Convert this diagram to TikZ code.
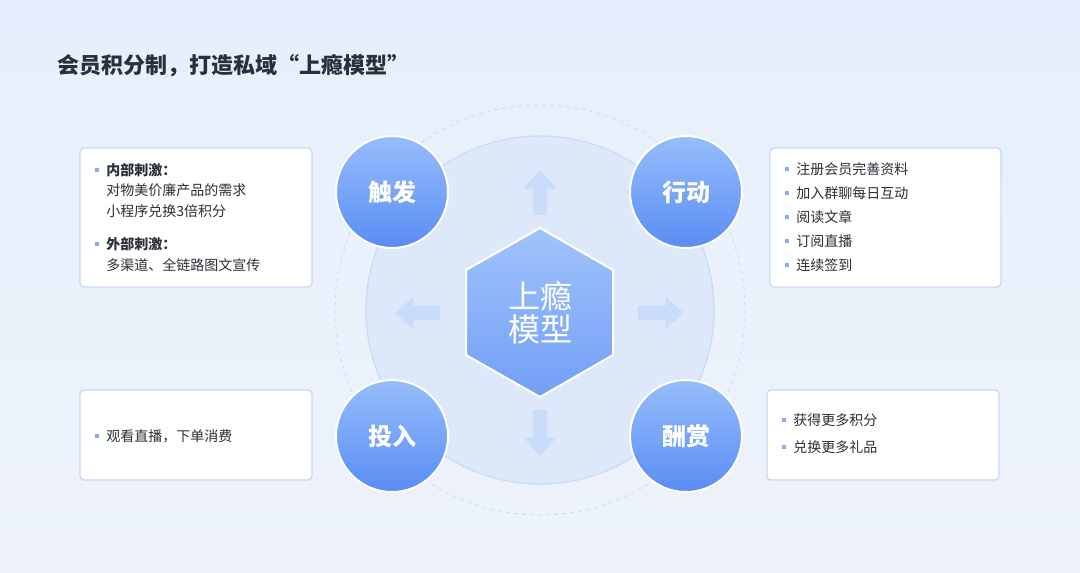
\documentclass[tikz,border=0pt]{standalone}
\usepackage{fontspec}
\setmainfont{Noto Sans CJK SC}
\usetikzlibrary{shapes.geometric,arrows.meta,shadows}
\definecolor{bgtop}{HTML}{E6EFFD}
\definecolor{bgbot}{HTML}{EEF3FA}
\definecolor{cA}{HTML}{96BDFB}
\definecolor{cB}{HTML}{5A8DF4}
\definecolor{ring}{HTML}{DDE8FB}
\definecolor{ringline}{HTML}{CCDCF8}
\definecolor{arr}{HTML}{C9DCFA}
\definecolor{txt}{HTML}{2B2F36}
\definecolor{boxline}{HTML}{C8D9F6}
\tikzset{
  stage/.style={circle,minimum size=112*0.75pt,inner sep=0pt,draw=white,line width=1.5pt,
    top color=cA,bottom color=cB,text=white,font=\fontsize{18}{20}\selectfont\bfseries},
  infobox/.style={draw=boxline,line width=1pt,fill=white,rounded corners=3pt},
  bigarrow/.style={draw=arr,line width=10pt,-{Triangle[length=14pt,width=24pt]},fill=arr},
  item/.style={anchor=west,text=txt,font=\fontsize{10.5}{13}\selectfont,inner sep=0pt},
  bul/.style={fill=cB!70,minimum size=3pt,inner sep=0pt},
}
\begin{document}
\begin{tikzpicture}[x=0.75pt,y=-0.75pt]
\shade[top color=bgtop,bottom color=bgbot] (0,0) rectangle (1080,572);
\useasboundingbox (0,0) rectangle (1080,572);
\node[anchor=west,text=txt,font=\fontsize{16.5}{20}\selectfont\bfseries] (title) at (53,66) {会员积分制，打造私域“上瘾模型”};
% rings
\draw[ringline,dashed,line width=0.6pt] (540,310) circle[radius=205];
\fill[ring] (540,310) circle[radius=174];
\draw[ringline,line width=1pt] (540,310) circle[radius=174];
% arrows
\coordinate (u1) at (540,215); \coordinate (u2) at (540,170);
\coordinate (l1) at (440,313); \coordinate (l2) at (395,313);
\coordinate (r1) at (638,313); \coordinate (r2) at (684,313);
\coordinate (d1) at (540,410); \coordinate (d2) at (540,456);
\foreach \a/\b in {u1/u2,l1/l2,r1/r2,d1/d2} \draw[bigarrow] (\a) -- (\b);
% hexagon
\shade[top color=cA!90,bottom color=cB!85,draw=white,line width=1.5pt]
  (540,228) -- (613,270) -- (613,355) -- (540,397) -- (466,355) -- (466,270) -- cycle;
\node[text=white,font=\fontsize{24}{28}\selectfont,align=center] (hex) at (540,313) {上瘾\\[-3pt]模型};
% stages
\node[stage] (s1) at (392,192) {触发};
\node[stage] (s2) at (686,192) {行动};
\node[stage] (s3) at (392,436) {投入};
\node[stage] (s4) at (686,436) {酬赏};
% boxes
\draw[infobox] (80,148) rectangle (312,287);
\draw[infobox] (770,148) rectangle (1001,287);
\draw[infobox] (80,390) rectangle (312,480);
\draw[infobox] (767,390) rectangle (999,480);
% left top
\node[bul] at (97,170) {}; \node[item,font=\fontsize{10.5}{13}\selectfont\bfseries] (a1) at (106,170) {内部刺激：};
\node[item] (a2) at (106,190) {对物美价廉产品的需求};
\node[item] (a3) at (106,211) {小程序兑换3倍积分};
\node[bul] at (97,244) {}; \node[item,font=\fontsize{10.5}{13}\selectfont\bfseries] (a4) at (106,244) {外部刺激：};
\node[item] (a5) at (106,265) {多渠道、全链路图文宣传};
% right top
\foreach \t [count=\i] in {注册会员完善资料,加入群聊每日互动,阅读文章,订阅直播,连续签到}{
  \node[bul] at (787,{145+\i*24}) {};
  \node[item] at (796,{145+\i*24}) {\t};
}
% left bottom
\node[bul] at (97,436) {}; \node[item] (b1) at (106,436) {观看直播，下单消费};
% right bottom
\node[bul] at (784,420) {}; \node[item] (c1) at (793,420) {获得更多积分};
\node[bul] at (784,447) {}; \node[item] (c2) at (793,447) {兑换更多礼品};
\end{tikzpicture}
\end{document}
